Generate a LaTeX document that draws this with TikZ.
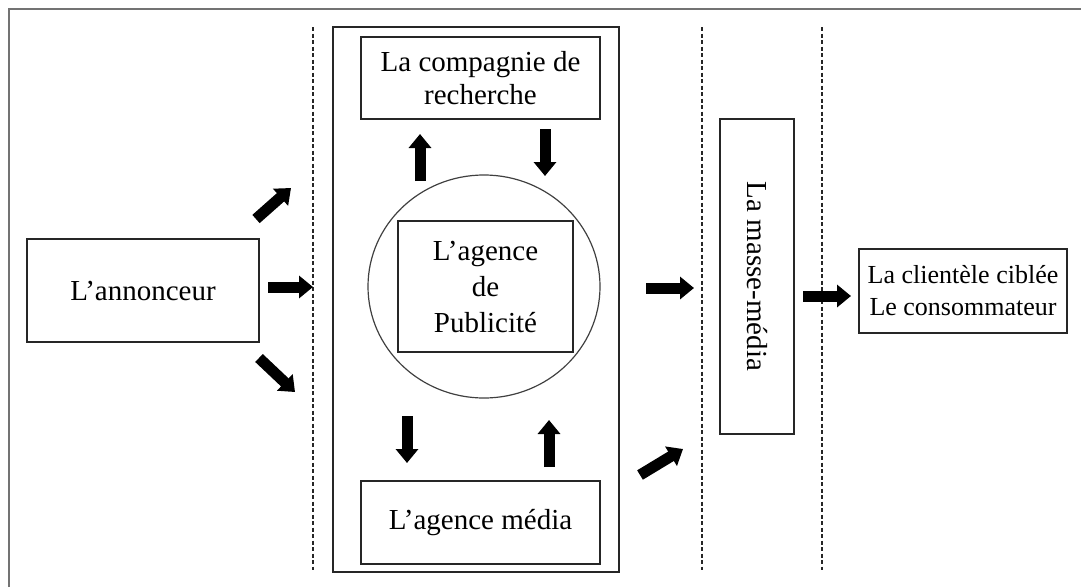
\documentclass[tikz,border=0pt]{standalone}
\usepackage{fontspec}
\setmainfont{Liberation Serif}
\usetikzlibrary{arrows.meta,shapes.geometric}
\begin{document}
\begin{tikzpicture}[x=1pt,y=-1pt,
  box/.style={draw=black!85, line width=1.4pt, inner sep=0pt, align=center,
    font=\fontsize{29}{33}\selectfont},
  divider/.style={draw=black!85, line width=1.3pt, dash pattern=on 4pt off 2.5pt},
  blockarrow/.style={line width=11pt, -{Triangle[width=22pt,length=14pt]}}
]
\useasboundingbox (0,0) rectangle (1081,587);
% outer frame (top and left edges only)
\draw[black!55, line width=2.8pt] (9,587) -- (9,9) -- (1081,9);

% nodes
\node[box, minimum width=232pt, minimum height=103pt] (ann) at (143,290.5) {L’annonceur};
\node[box, minimum width=286pt, minimum height=545pt] (mid) at (476,299.5) {};
\node[box, minimum width=239pt, minimum height=82pt] (rech) at (480.5,78) {La compagnie de\\recherche};
\node[draw=black!75, line width=1.2pt, ellipse, minimum width=232pt, minimum height=223pt, inner sep=0pt] (circ) at (484,286.5) {};
\node[box, minimum width=175pt, minimum height=131pt, font=\fontsize{29}{36}\selectfont] (pub) at (485.5,286.5) {L’agence\\de\\Publicité};
\node[box, minimum width=239pt, minimum height=83pt] (media) at (480.5,522.5) {L’agence média};
\node[box, minimum width=74pt, minimum height=315pt] (masse) at (757,276.5) {};
\node[rotate=-90, font=\fontsize{29}{33}\selectfont, inner sep=0pt] (massetxt) at (masse.center) {La masse-média};
\node[box, minimum width=208pt, minimum height=84pt, font=\fontsize{26}{32}\selectfont] (client) at (963,291) {La clientèle ciblée\\Le consommateur};

% dashed dividers
\coordinate (d1t) at (313,27); \coordinate (d1b) at (313,570);
\coordinate (d2t) at (702,27); \coordinate (d2b) at (702,570);
\coordinate (d3t) at (822,27); \coordinate (d3b) at (822,570);
\draw[divider] (d1t) -- (d1b);
\draw[divider] (d2t) -- (d2b);
\draw[divider] (d3t) -- (d3b);

% arrow end points
\coordinate (a1s) at (256,219); \coordinate (a1e) at (291,188);
\coordinate (a2s) at (268,287); \coordinate (a2e) at (313,287);
\coordinate (a3s) at (259,358); \coordinate (a3e) at (295,392);
\coordinate (u1s) at (420,181); \coordinate (u1e) at (420,134);
\coordinate (u2s) at (545,129); \coordinate (u2e) at (545,176);
\coordinate (b1s) at (407,416); \coordinate (b1e) at (407,463);
\coordinate (b2s) at (549,467); \coordinate (b2e) at (549,420);
\coordinate (r1s) at (646,288); \coordinate (r1e) at (694,288);
\coordinate (r2s) at (640,475); \coordinate (r2e) at (683,449);
\coordinate (r3s) at (803,296); \coordinate (r3e) at (851,296);

\draw[blockarrow] (a1s) -- (a1e);
\draw[blockarrow] (a2s) -- (a2e);
\draw[blockarrow] (a3s) -- (a3e);
\draw[blockarrow] (u1s) -- (u1e);
\draw[blockarrow] (u2s) -- (u2e);
\draw[blockarrow] (b1s) -- (b1e);
\draw[blockarrow] (b2s) -- (b2e);
\draw[blockarrow] (r1s) -- (r1e);
\draw[blockarrow] (r2s) -- (r2e);
\draw[blockarrow] (r3s) -- (r3e);
\end{tikzpicture}
\end{document}
